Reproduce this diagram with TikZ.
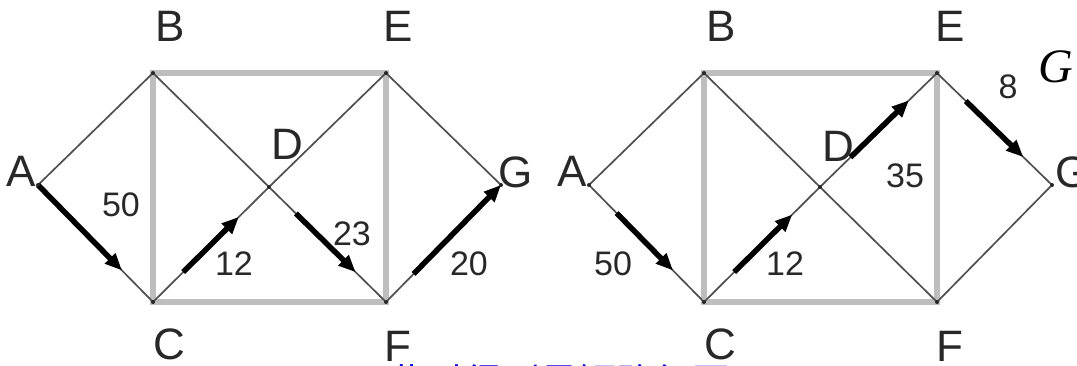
\documentclass[tikz,border=0pt]{standalone}
\usepackage{fontspec}
\setmainfont{Liberation Sans}
\newfontfamily\cjk{Noto Sans CJK SC}
\newfontfamily\serifit{Liberation Serif}
\usetikzlibrary{arrows.meta,calc}
\definecolor{edgegray}{RGB}{190,190,190}
\definecolor{thinc}{RGB}{80,80,80}
\definecolor{ink}{RGB}{40,40,40}
\definecolor{blu}{RGB}{0,0,225}
\begin{document}
\begin{tikzpicture}[x=1pt,y=-1pt,
  grayedge/.style={edgegray,line width=6pt,line cap=rect},
  thinedge/.style={thinc,line width=1.7pt},
  flow/.style={black,line width=5.5pt,-{Triangle[length=17pt,width=14pt]}},
  vlabel/.style={ink,inner sep=0pt,font=\fontsize{44}{44}\selectfont},
  wlabel/.style={ink,inner sep=0pt,font=\fontsize{34}{34}\selectfont},
  vdot/.style={fill=black!85,circle,inner sep=0pt,minimum size=4pt}]
\useasboundingbox (0,0) rectangle (1077,366);
\clip (0,0) rectangle (1077,366);
\fill[white] (0,0) rectangle (1077,366);

% ---------- left graph ----------
\coordinate (lA) at (38,185);
\coordinate (lB) at (153,73);
\coordinate (lC) at (153,302);
\coordinate (lD) at (269,187);
\coordinate (lE) at (386,73);
\coordinate (lF) at (386,302);
\coordinate (lG) at (501,185);

\draw[grayedge] (lB) -- (lE);
\draw[grayedge] (lB) -- (lC);
\draw[grayedge] (lC) -- (lF);
\draw[grayedge] (lE) -- (lF);
\draw[thinedge] (lA) -- (lB);
\draw[thinedge] (lA) -- (lC);
\draw[thinedge] (lB) -- (lD);
\draw[thinedge] (lD) -- (lF);
\draw[thinedge] (lC) -- (lD);
\draw[thinedge] (lD) -- (lE);
\draw[thinedge] (lE) -- (lG);
\draw[thinedge] (lF) -- (lG);

\draw[flow] (lA) -- ($(lA)!0.73!(lC)$);
\draw[flow] ($(lC)!0.26!(lD)$) -- ($(lC)!0.74!(lD)$);
\draw[flow] ($(lD)!0.23!(lF)$) -- ($(lD)!0.74!(lF)$);
\draw[flow] ($(lF)!0.24!(lG)$) -- (lG);

\foreach \v in {lA,lB,lC,lD,lE,lF,lG} \node[vdot] at (\v) {};

\node[vlabel] (tlA) at (21,171) {A};
\node[vlabel] (tlB) at (170,26) {B};
\node[vlabel] (tlC) at (169,344) {C};
\node[vlabel] (tlD) at (287,144) {D};
\node[vlabel] (tlE) at (398,26) {E};
\node[vlabel] (tlF) at (398,346) {F};
\node[vlabel] (tlG) at (516,172) {G};

\node[wlabel] (wl1) at (121,205) {50};
\node[wlabel] (wl2) at (234,264) {12};
\node[wlabel] (wl3) at (352,234) {23};
\node[wlabel] (wl4) at (469,264) {20};

% ---------- right graph ----------
\coordinate (rA) at (589,185);
\coordinate (rB) at (704,73);
\coordinate (rC) at (704,302);
\coordinate (rD) at (820,187);
\coordinate (rE) at (937,73);
\coordinate (rF) at (937,302);
\coordinate (rG) at (1052,185);

\draw[grayedge] (rB) -- (rE);
\draw[grayedge] (rB) -- (rC);
\draw[grayedge] (rC) -- (rF);
\draw[grayedge] (rE) -- (rF);
\draw[thinedge] (rA) -- (rB);
\draw[thinedge] (rA) -- (rC);
\draw[thinedge] (rB) -- (rD);
\draw[thinedge] (rD) -- (rF);
\draw[thinedge] (rC) -- (rD);
\draw[thinedge] (rD) -- (rE);
\draw[thinedge] (rE) -- (rG);
\draw[thinedge] (rF) -- (rG);

\draw[flow] ($(rA)!0.24!(rC)$) -- ($(rA)!0.73!(rC)$);
\draw[flow] ($(rC)!0.26!(rD)$) -- ($(rC)!0.76!(rD)$);
\draw[flow] ($(rD)!0.26!(rE)$) -- ($(rD)!0.76!(rE)$);
\draw[flow] ($(rE)!0.25!(rG)$) -- ($(rE)!0.75!(rG)$);

\foreach \v in {rA,rB,rC,rD,rE,rF,rG} \node[vdot] at (\v) {};

\node[vlabel] (trA) at (572,171) {A};
\node[vlabel] (trB) at (721,26) {B};
\node[vlabel] (trC) at (720,344) {C};
\node[vlabel] (trD) at (838,146) {D};
\node[vlabel] (trE) at (950,26) {E};
\node[vlabel] (trF) at (950,346) {F};
\node[vlabel,anchor=west] (trG) at (1055,172) {G};

\node[wlabel] (wr1) at (613,264) {50};
\node[wlabel] (wr2) at (785,264) {12};
\node[wlabel] (wr3) at (905,176) {35};
\node[wlabel] (wr4) at (1008,87) {8};

\node[inner sep=0pt,font=\serifit\itshape\fontsize{48}{48}\selectfont] (gG) at (1056,67) {G};

% ---------- cut-off caption ----------
\node[blu,inner sep=0pt,anchor=north west,font=\cjk\fontsize{38}{38}\selectfont] (cap) at (388,364) {此时得到最短路径图};
\end{tikzpicture}
\end{document}
